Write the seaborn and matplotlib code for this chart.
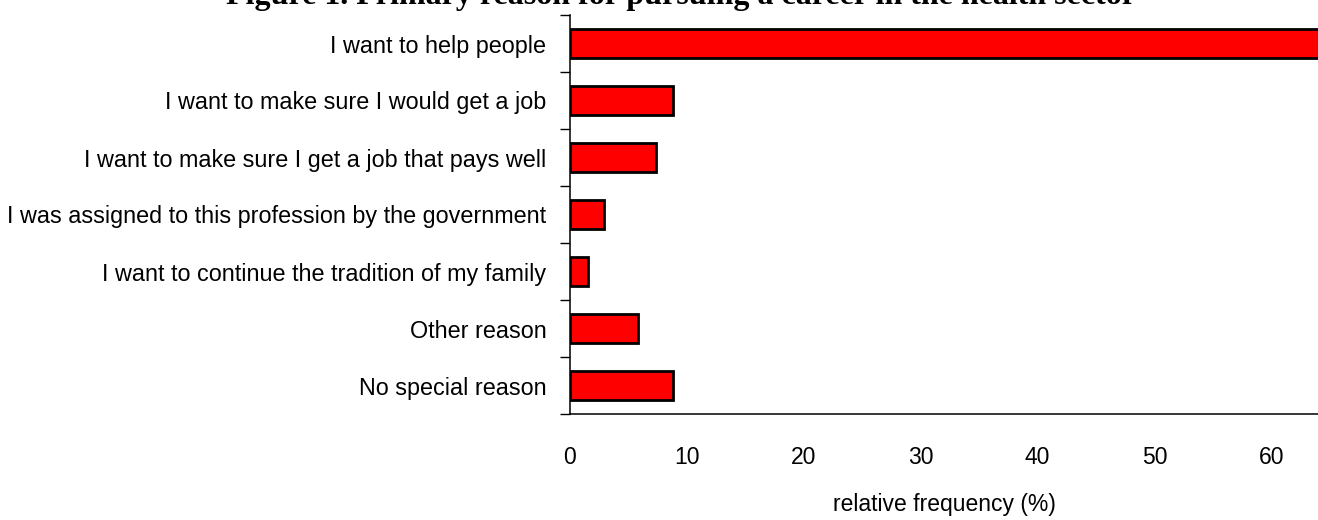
# Horizontal bar chart: primary reason for pursuing a career in the health sector

import numpy as np
import pandas as pd
from matplotlib import pyplot as plt
from matplotlib.ticker import FixedLocator
import seaborn as sb

# Data
reasons = [
    "I want to help people",
    "I want to make sure I would get a job",
    "I want to make sure I get a job that pays well",
    "I was assigned to this profession by the government",
    "I want to continue the tradition of my family",
    "Other reason",
    "No special reason",
]
freq = [64.8, 8.8, 7.4, 2.9, 1.5, 5.8, 8.8]
x_ticks = [0, 10, 20, 30, 40, 50, 60]

data = pd.DataFrame({"reason": reasons, "freq": freq})

sb.set_style("white")
plt.rcParams["font.family"] = ["Liberation Sans", "DejaVu Sans"]
plt.rcParams["text.color"] = "black"
plt.rcParams["xtick.color"] = "black"
plt.rcParams["ytick.color"] = "black"
plt.rcParams["axes.labelcolor"] = "black"

fig = plt.figure(figsize=(13.18, 5.2), dpi=100)
ax = fig.add_axes([570 / 1318, 1 - 414 / 520, 748 / 1318, 399 / 520])

sb.barplot(data=data, x="freq", y="reason", orient="h", color="red",
           saturation=1, edgecolor="black", linewidth=2, width=0.5, ax=ax)

ax.set_xlim(0, 64)
ax.set_ylim(len(reasons) - 0.5, -0.5)

# spines
for side in ["top", "right"]:
    ax.spines[side].set_visible(False)
for side in ["left", "bottom"]:
    ax.spines[side].set_color("black")
    ax.spines[side].set_linewidth(1.1)

# x axis
ax.set_xticks(x_ticks)
ax.tick_params(axis="x", which="major", direction="out", length=7, width=1,
               labelsize=16.5, pad=16)
ax.set_xlabel("relative frequency (%)", fontsize=16.5, labelpad=17)

# y axis: labels centred on bars, tick marks on category boundaries
ax.tick_params(axis="y", which="major", length=0, labelsize=16.8, pad=17)
ax.yaxis.set_minor_locator(FixedLocator(np.arange(-0.5, len(reasons), 1.0)))
ax.tick_params(axis="y", which="minor", direction="out", length=7, width=1,
               left=True)
ax.set_ylabel("")

fig.text(0.517, 0.992, "Figure 1. Primary reason for pursuing a career in the health sector",
         ha="center", va="baseline", fontsize=23, fontweight="bold",
         family=["Liberation Serif", "DejaVu Serif"])

fig.savefig("out.png", dpi=100)
